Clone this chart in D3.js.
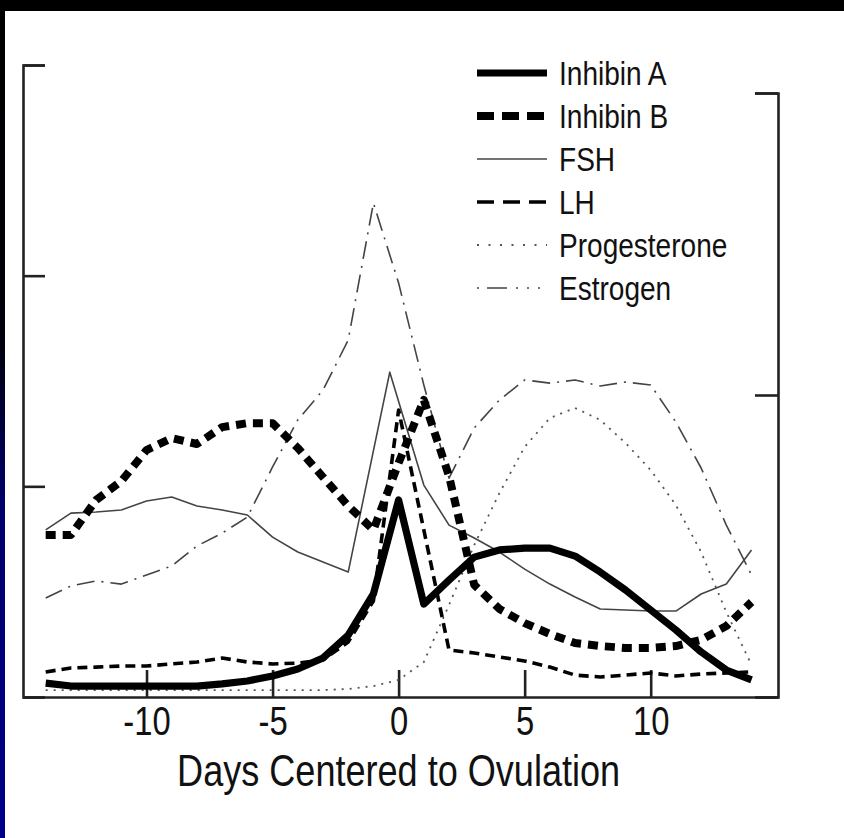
<!DOCTYPE html>
<html><head><meta charset="utf-8">
<script src="https://cdn.jsdelivr.net/npm/d3@7"></script>
<style>
html,body{margin:0;padding:0;background:#fff;overflow:hidden;}
svg{display:block;}
</style></head><body>
<svg id="chart" width="844" height="838"></svg>
<script>
// ---- data (relative units) ----
const days = [-14,-13,-12,-11,-10,-9,-8,-7,-6,-5,-4,-3,-2,-1,0,1,2,3,4,5,6,7,8,9,10,11,12,13,14];
const fshDays = [-14,-13,-12,-11,-10,-9,-8,-7,-6,-5,-4,-3,-2,-0.35,1,2,3,4,5,6,7,8,9,10,11,12,13,14];

const inhibinA = [0.66,0.52,0.52,0.52,0.52,0.52,0.52,0.62,0.76,1.00,1.33,1.85,2.94,4.89,9.35,4.41,5.55,6.64,6.98,7.07,7.07,6.69,5.93,5.08,4.13,3.18,2.14,1.28,0.81];
const inhibinB = [7.69,7.69,9.35,10.25,11.72,12.29,12.01,12.81,13.00,13.00,11.82,10.44,9.07,7.93,11.11,14.10,10.49,5.32,4.18,3.51,2.99,2.56,2.42,2.33,2.33,2.42,2.71,3.37,4.51];
const fsh = [7.93,8.73,8.78,8.88,9.30,9.49,9.07,8.88,8.64,7.59,6.88,6.41,5.93,15.42,10.06,8.16,7.55,6.88,6.07,5.36,4.75,4.18,4.13,4.08,4.08,4.89,5.36,6.98];
const lh = [1.19,1.38,1.42,1.47,1.47,1.57,1.66,1.85,1.66,1.57,1.61,1.76,2.61,4.56,13.62,7.93,2.23,2.09,1.90,1.71,1.42,1.04,0.95,1.04,1.14,1.00,1.09,1.14,1.19];
const progesterone = [0.33,0.33,0.33,0.33,0.33,0.33,0.33,0.33,0.33,0.33,0.33,0.33,0.38,0.52,0.81,1.66,4.37,7.21,9.68,11.87,13.24,13.72,13.15,12.06,10.77,9.11,6.88,4.03,1.52];
const estrogen = [4.70,5.27,5.51,5.36,5.79,6.22,7.17,7.78,8.54,10.92,13.15,14.57,16.94,23.45,19.65,14.81,10.39,12.77,14.10,15.05,14.90,15.05,14.76,14.95,14.81,13.05,10.87,8.16,5.79];

const xTicks = [-10,-5,0,5,10];
const leftTicks = [0,10,20,30];
const rightTicks = [0,10,20];
const legendLabels = ["Inhibin A","Inhibin B","FSH","LH","Progesterone","Estrogen"];
const xTitle = "Days Centered to Ovulation";

// ---- styles ----
const styles = {
  "Inhibin A":    {w:7.2, c:"#000", dash:null,            ldash:null},
  "Inhibin B":    {w:8,   c:"#000", dash:"10,7",          ldash:"17,8"},
  "FSH":          {w:1.6, c:"#444", dash:null,            ldash:null},
  "LH":           {w:3.6, c:"#000", dash:"10,6",          ldash:"17,9"},
  "Progesterone": {w:1.8, c:"#555", dash:"2,6",           ldash:"2,9.5"},
  "Estrogen":     {w:1.6, c:"#444", dash:"18,7,2,7",      ldash:"2,8,20,9,2,9,2,9"}
};
const series = [
  {name:"Progesterone", x:days, y:progesterone},
  {name:"Estrogen", x:days, y:estrogen},
  {name:"FSH", x:fshDays, y:fsh},
  {name:"LH", x:days, y:lh},
  {name:"Inhibin B", x:days, y:inhibinB},
  {name:"Inhibin A", x:days, y:inhibinA}
];

const svg = d3.select("#chart");
const W = 844, H = 838;
const FONT = "'Liberation Sans',Arial,Helvetica,sans-serif";
const NARROW = 0.82;

// background
const defs = svg.append("defs");
const g1 = defs.append("linearGradient").attr("id","edge").attr("x1",0).attr("y1",0).attr("x2",0).attr("y2",1);
g1.append("stop").attr("offset","0").attr("stop-color","#000");
g1.append("stop").attr("offset","0.4").attr("stop-color","#00000a");
g1.append("stop").attr("offset","0.6").attr("stop-color","#00006a");
g1.append("stop").attr("offset","1").attr("stop-color","#000088");
svg.append("rect").attr("width",W).attr("height",H).attr("fill","#fff");
svg.append("rect").attr("x",0).attr("y",0).attr("width",5).attr("height",H).attr("fill","url(#edge)");
svg.append("rect").attr("x",0).attr("y",0).attr("width",W).attr("height",11).attr("fill","#000");

// scales
const x = d3.scaleLinear().domain([-14.9, 15.05]).range([23, 778]);
const yL = d3.scaleLinear().domain([0, 30]).range([697, 65]);
const yR = d3.scaleLinear().domain([0, 20]).range([697, 93]);

// axes
const axisStyle = sel => {
  sel.selectAll("path,line").attr("stroke","#222").attr("stroke-width",2.6);
  sel.select(".domain").attr("fill","none");
};
svg.append("g").attr("transform",`translate(${x.range()[0]},0)`)
  .call(d3.axisLeft(yL).tickValues(leftTicks).tickSize(-22).tickFormat(""))
  .call(axisStyle);
svg.append("g").attr("transform",`translate(${x.range()[1]},0)`)
  .call(d3.axisRight(yR).tickValues(rightTicks).tickSize(-23).tickFormat(""))
  .call(axisStyle);
const xa = svg.append("g").attr("transform",`translate(0,${yL(0)})`)
  .call(d3.axisBottom(x).tickValues(xTicks).tickSize(-27).tickSizeOuter(0).tickPadding(10).tickFormat(d => String(d)))
  .call(axisStyle);
xa.selectAll("text").attr("font-family",FONT).attr("font-size",40).attr("fill","#111")
  .attr("transform",`scale(${NARROW},1)`);

svg.append("text").attr("transform",`translate(${x(0)},786) scale(${NARROW},1)`)
  .attr("text-anchor","middle")
  .attr("font-family",FONT).attr("font-size",44).attr("fill","#111").text(xTitle);

// lines
const plot = svg.append("g");
series.forEach(s => {
  const st = styles[s.name];
  const pts = s.x.map((d,i)=>[d, s.y[i]]);
  const line = d3.line().x(d=>x(d[0])).y(d=>yL(d[1])).curve(d3.curveLinear);
  plot.append("path").datum(pts).attr("d",line)
    .attr("fill","none").attr("stroke",st.c).attr("stroke-width",st.w)
    .attr("stroke-linejoin","round")
    .attr("stroke-dasharray",st.dash);
});

// legend
const leg = svg.append("g");
legendLabels.forEach((name,i) => {
  const st = styles[name];
  const yy = 73 + i*43;
  leg.append("line").attr("x1",477).attr("x2",547).attr("y1",yy).attr("y2",yy)
    .attr("stroke",st.c).attr("stroke-width",st.w).attr("stroke-dasharray",st.ldash);
  leg.append("text").attr("transform",`translate(559,${yy}) scale(0.85,1)`).attr("dy","0.35em")
    .attr("font-family",FONT).attr("font-size",33).attr("fill","#111").text(name);
});
</script>
</body></html>
